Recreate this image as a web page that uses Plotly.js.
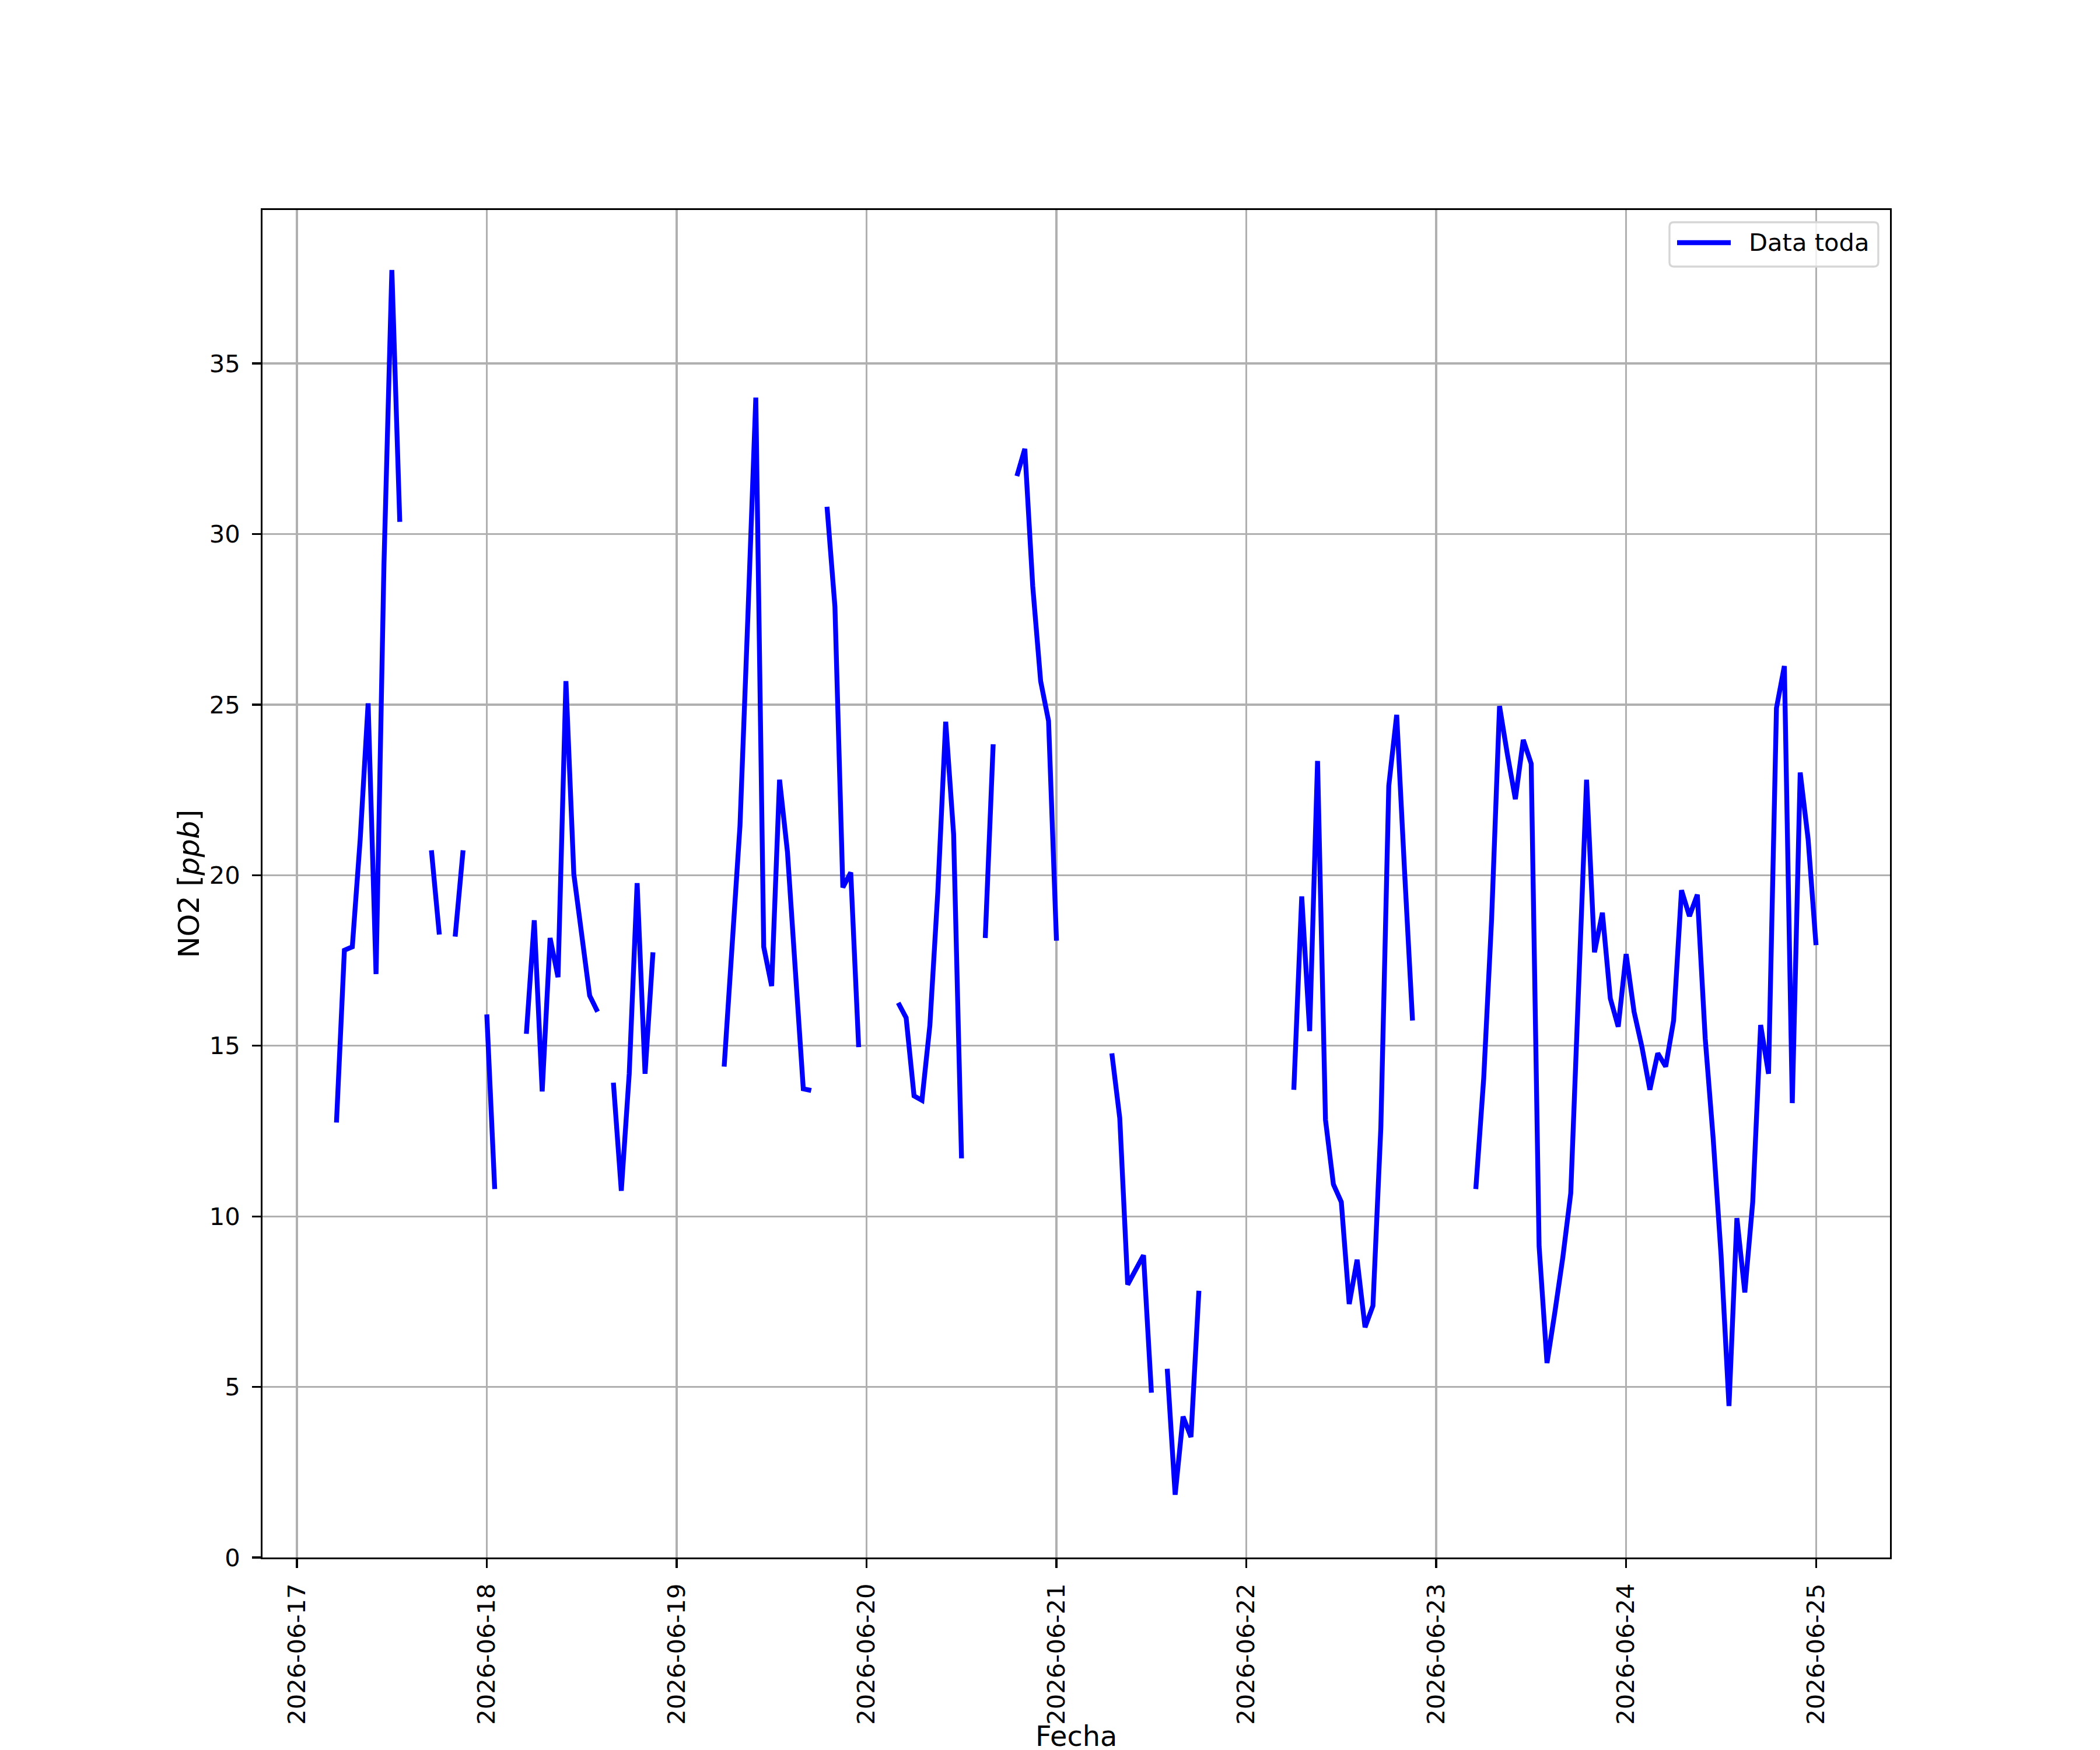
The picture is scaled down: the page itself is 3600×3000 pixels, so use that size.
<!DOCTYPE html>
<html>
<head>
<meta charset="utf-8">
<script src="https://cdn.plot.ly/plotly-3.0.1.min.js"></script>
<style>
  html, body { margin: 0; padding: 0; background: #ffffff; }
  #chart { width: 3600px; height: 3000px; }
</style>
</head>
<body>
<div id="chart"></div>
<script>
// Hourly NO2 [ppb]; index = hour of the day (0..23); null = no data
const days = ['2026-06-17','2026-06-18','2026-06-19','2026-06-20','2026-06-21','2026-06-22','2026-06-23','2026-06-24'];
const no2_0617 = [null,null,null,null,null,12.75,17.8,17.9,21.06,25.04,17.1,29.1,37.74,30.36,null,null,null,20.73,18.26,null,18.2,20.73,null,null];
const no2_0618 = [15.92,10.8,null,null,null,15.35,18.68,13.66,18.16,17.01,25.69,20.03,18.2,16.47,16.0,null,13.92,10.75,14.18,19.77,14.18,17.74,null,null];
const no2_0619 = [null,null,null,null,null,null,14.39,17.95,21.45,27.6,34.0,17.9,16.75,22.8,20.68,17.2,13.74,13.69,null,30.8,27.87,19.64,20.08,14.96];
const no2_0620 = [null,null,null,null,16.26,15.82,13.53,13.4,15.6,19.5,24.5,21.2,11.7,null,null,18.16,23.84,null,null,31.7,32.5,28.47,25.69,24.52];
const no2_0621 = [18.08,null,null,null,null,null,null,14.78,12.88,8.0,8.47,8.86,4.83,null,5.53,1.84,4.13,3.53,7.82,null,null,null,null,null];
const no2_0622 = [null,null,null,null,null,null,13.71,19.38,15.43,23.35,12.83,10.94,10.42,7.43,8.73,6.75,7.38,12.62,22.62,24.7,20.1,15.74,null,null];
const no2_0623 = [null,null,null,null,null,10.8,14.05,18.73,24.96,23.53,22.23,23.97,23.27,9.12,5.7,7.2,8.8,10.68,16.6,22.8,17.74,18.9,16.39,15.56];
const no2_0624 = [17.69,16.0,14.96,13.71,14.78,14.39,15.74,19.56,18.8,19.43,15.2,12.29,8.86,4.44,9.95,7.77,10.42,15.61,14.18,24.9,26.13,13.32,23.01,21.06];
const lastDay = '2026-06-25';
const no2_0625 = [17.95];

const dayValues = [no2_0617,no2_0618,no2_0619,no2_0620,no2_0621,no2_0622,no2_0623,no2_0624];
const xTicks = ['2026-06-17','2026-06-18','2026-06-19','2026-06-20','2026-06-21','2026-06-22','2026-06-23','2026-06-24','2026-06-25'];

function pad(n){ return (n < 10 ? '0' : '') + n; }
const xs = [], ys = [];
days.forEach(function(d, i){
  dayValues[i].forEach(function(v, h){
    xs.push(d + ' ' + pad(h) + ':00');
    ys.push(v);
  });
});
no2_0625.forEach(function(v, h){ xs.push(lastDay + ' ' + pad(h) + ':00'); ys.push(v); });

const font = 'DejaVu Sans, Liberation Sans, sans-serif';
const PX = 300/72; // points to px at 300 dpi

const trace = {
  x: xs, y: ys, type: 'scatter', mode: 'lines', name: 'Data toda',
  connectgaps: false,
  line: { color: '#0000ff', width: 2*PX },
  showlegend: false
};

// legend (rounded box, sample line, label) in paper coordinates
const lx0 = 0.8645, lx1 = 0.9928, ly0 = 0.9580, ly1 = 0.9909, rx = 0.0026, ry = 0.0031;
const boxPath = 'M' + (lx0+rx) + ',' + ly1 + ' L' + (lx1-rx) + ',' + ly1 +
  ' Q' + lx1 + ',' + ly1 + ' ' + lx1 + ',' + (ly1-ry) +
  ' L' + lx1 + ',' + (ly0+ry) + ' Q' + lx1 + ',' + ly0 + ' ' + (lx1-rx) + ',' + ly0 +
  ' L' + (lx0+rx) + ',' + ly0 + ' Q' + lx0 + ',' + ly0 + ' ' + lx0 + ',' + (ly0+ry) +
  ' L' + lx0 + ',' + (ly1-ry) + ' Q' + lx0 + ',' + ly1 + ' ' + (lx0+rx) + ',' + ly1 + ' Z';

const layout = {
  width: 3600, height: 3000,
  margin: { l: 450, r: 360, t: 360, b: 330, pad: 0 },
  paper_bgcolor: '#ffffff', plot_bgcolor: '#ffffff',
  font: { family: font, size: 10*PX, color: '#000000' },
  xaxis: {
    type: 'date',
    range: ['2026-06-16 19:39', '2026-06-25 09:21'],
    tickmode: 'array', tickvals: xTicks, ticktext: xTicks,
    tickangle: -90,
    ticks: 'outside', ticklen: 3.5*PX, tickwidth: 0.8*PX, tickcolor: '#000000',
    ticklabelstandoff: 10,
    tickfont: { family: font, size: 10*PX, color: '#000000' },
    showline: true, linecolor: '#000000', linewidth: 0.8*PX, mirror: true,
    showgrid: true, gridcolor: '#b0b0b0', gridwidth: 0.8*PX,
    zeroline: false
  },
  yaxis: {
    range: [0, 39.5],
    tickmode: 'array', tickvals: [0,5,10,15,20,25,30,35],
    ticks: 'outside', ticklen: 3.5*PX, tickwidth: 0.8*PX, tickcolor: '#000000',
    ticklabelstandoff: 12,
    tickfont: { family: font, size: 10*PX, color: '#000000' },
    showline: true, linecolor: '#000000', linewidth: 0.8*PX, mirror: true,
    showgrid: true, gridcolor: '#b0b0b0', gridwidth: 0.8*PX,
    zeroline: false,
    title: { text: 'NO2 [<i>ppb</i>]', font: { family: font, size: 11.8*PX, color: '#000000' }, standoff: 2 }
  },
  shapes: [
    { type: 'path', xref: 'paper', yref: 'paper', path: boxPath, layer: 'above',
      fillcolor: 'rgba(255,255,255,0.8)', line: { color: '#d6d6d6', width: 0.8*PX } },
    { type: 'line', xref: 'paper', yref: 'paper', x0: 0.86918, x1: 0.90215, y0: 0.97576, y1: 0.97576,
      layer: 'above', line: { color: '#0000ff', width: 2*PX } }
  ],
  annotations: [
    { xref: 'paper', yref: 'paper', x: 0.9130, y: 0.97576, xanchor: 'left', yanchor: 'middle',
      text: 'Data toda', showarrow: false, borderpad: 0,
      font: { family: font, size: 10*PX, color: '#000000' } },
    { xref: 'paper', yref: 'paper', x: 0.5, y: -0.1203, xanchor: 'center', yanchor: 'top',
      text: 'Fecha', showarrow: false, borderpad: 0,
      font: { family: font, size: 11.5*PX, color: '#000000' } }
  ],
  showlegend: false
};

Plotly.newPlot('chart', [trace], layout, { staticPlot: true, displayModeBar: false });
</script>
</body>
</html>
